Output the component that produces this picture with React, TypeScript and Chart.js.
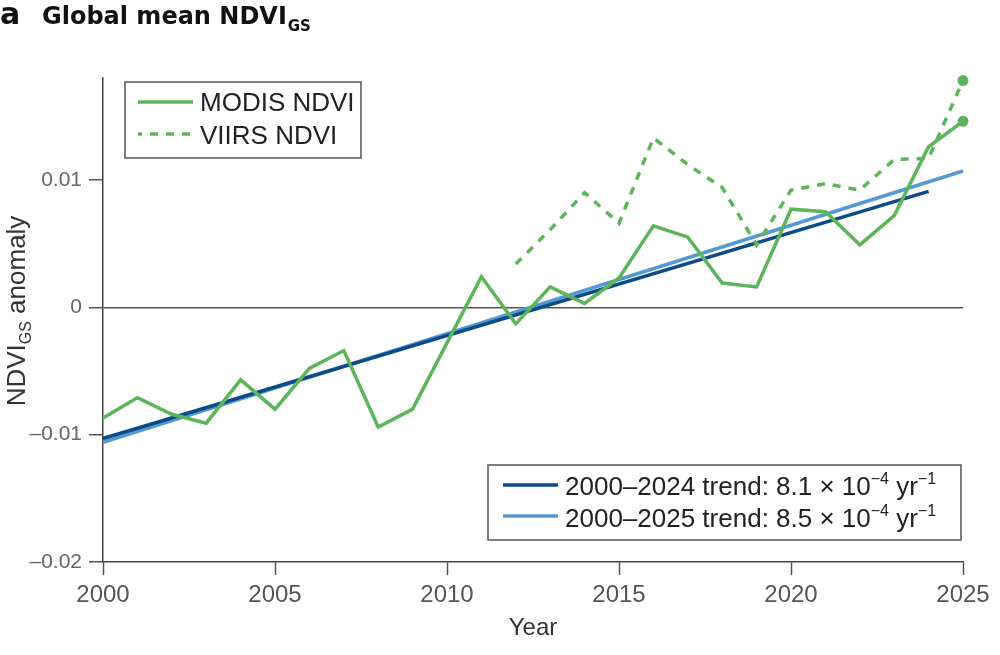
import React, { useEffect, useRef } from "react";
import { Chart, registerables } from "chart.js";

Chart.register(...registerables);

// ---------- data ----------
const years = [2000, 2001, 2002, 2003, 2004, 2005, 2006, 2007, 2008, 2009, 2010, 2011, 2012, 2013, 2014, 2015, 2016, 2017, 2018, 2019, 2020, 2021, 2022, 2023, 2024, 2025];
const modis = [-0.0087, -0.0071, -0.0084, -0.0091, -0.0057, -0.008, -0.0048, -0.0034, -0.0094, -0.008, -0.0028, 0.0024, -0.0013, 0.0016, 0.0003, 0.0023, 0.0064, 0.0055, 0.0019, 0.0016, 0.0077, 0.0075, 0.0049, 0.0072, 0.0126, 0.0146];
const viirsYears = [2012, 2013, 2014, 2015, 2016, 2017, 2018, 2019, 2020, 2021, 2022, 2023, 2024, 2025];
const viirs = [0.0034, 0.0061, 0.009, 0.0066, 0.0133, 0.0112, 0.0094, 0.0049, 0.0092, 0.0097, 0.0092, 0.0116, 0.0117, 0.0178];
const trend2024Years = [2000, 2024];
const trend2024 = [-0.0103, 0.0091];
const trend2025Years = [2000, 2025];
const trend2025 = [-0.0106, 0.0107];

const xTicks = [2000, 2005, 2010, 2015, 2020, 2025];
const yTicks = [-0.02, -0.01, 0, 0.01];
const yTickLabels = ["\u20130.02", "\u20130.01", "0", "0.01"];

const titleLetter = "a";
const titleMain = "Global mean NDVI";
const titleSub = "GS";
const yTitleMain = "NDVI";
const yTitleSub = "GS";
const yTitleRest = " anomaly";
const xTitle = "Year";

const legendTop = ["MODIS NDVI", "VIIRS NDVI"];
type Part = { t: string; sup?: boolean };
const legendTrend2024: Part[] = [{ t: "2000\u20132024 trend: 8.1 \u00d7 10" }, { t: "\u22124", sup: true }, { t: " yr" }, { t: "\u22121", sup: true }];
const legendTrend2025: Part[] = [{ t: "2000\u20132025 trend: 8.5 \u00d7 10" }, { t: "\u22124", sup: true }, { t: " yr" }, { t: "\u22121", sup: true }];

// ---------- styles ----------
const GREEN = "#5db55a";
const NAVY = "#0b4b88";
const LIGHT = "#5499d3";
const FONT = "'Liberation Sans', Arial, sans-serif";
const BOLDFONT = "'DejaVu Sans', sans-serif";

function drawRich(ctx: CanvasRenderingContext2D, parts: Part[], x: number, y: number, size: number) {
  let cx = x;
  for (const p of parts) {
    if (p.sup) {
      ctx.font = `${Math.round(size * 0.62)}px ${FONT}`;
      ctx.fillText(p.t, cx, y - size * 0.42);
    } else {
      ctx.font = `${size}px ${FONT}`;
      ctx.fillText(p.t, cx, y);
    }
    cx += ctx.measureText(p.t).width;
  }
}

const overlayPlugin = {
  id: "overlay",
  afterDraw(chart: any) {
    const ctx: CanvasRenderingContext2D = chart.ctx;
    ctx.save();
    ctx.textAlign = "left";
    ctx.textBaseline = "alphabetic";

    // Title
    ctx.fillStyle = "#111";
    ctx.font = `bold 30px ${BOLDFONT}`;
    ctx.fillText(titleLetter, 0, 24);
    ctx.font = `bold 24px ${BOLDFONT}`;
    ctx.fillText(titleMain, 42, 24);
    const tw = ctx.measureText(titleMain).width;
    ctx.font = `bold 15px ${BOLDFONT}`;
    ctx.fillText(titleSub, 42 + tw + 1, 31);

    // Y axis title (rotated)
    ctx.save();
    ctx.fillStyle = "#333";
    ctx.translate(25, 311);
    ctx.rotate(-Math.PI / 2);
    ctx.font = `26px ${FONT}`;
    const w1 = ctx.measureText(yTitleMain).width;
    const w3 = ctx.measureText(yTitleRest).width;
    ctx.font = `16px ${FONT}`;
    const w2 = ctx.measureText(yTitleSub).width;
    let sx = -(w1 + w2 + w3) / 2;
    ctx.font = `26px ${FONT}`;
    ctx.fillText(yTitleMain, sx, 0);
    sx += w1;
    ctx.font = `16px ${FONT}`;
    ctx.fillText(yTitleSub, sx, 6);
    sx += w2;
    ctx.font = `26px ${FONT}`;
    ctx.fillText(yTitleRest, sx, 0);
    ctx.restore();

    // X axis title
    ctx.fillStyle = "#333";
    ctx.font = `24px ${FONT}`;
    ctx.textAlign = "center";
    ctx.fillText(xTitle, (chart.chartArea.left + chart.chartArea.right) / 2, 635);
    ctx.textAlign = "left";

    // Top legend
    ctx.strokeStyle = "#555";
    ctx.lineWidth = 1.5;
    ctx.setLineDash([]);
    ctx.strokeRect(125, 82, 236, 76);
    ctx.lineWidth = 3.5;
    ctx.strokeStyle = GREEN;
    ctx.beginPath();
    ctx.moveTo(138, 102);
    ctx.lineTo(193, 102);
    ctx.stroke();
    ctx.setLineDash([8, 8]);
    ctx.lineDashOffset = 4;
    ctx.beginPath();
    ctx.moveTo(138, 134);
    ctx.lineTo(193, 134);
    ctx.stroke();
    ctx.setLineDash([]);
    ctx.lineDashOffset = 0;
    ctx.fillStyle = "#222";
    ctx.font = `26px ${FONT}`;
    ctx.fillText(legendTop[0], 200, 111);
    ctx.fillText(legendTop[1], 200, 144);

    // Bottom legend
    ctx.strokeStyle = "#555";
    ctx.lineWidth = 1.5;
    ctx.strokeRect(488, 465, 473, 75);
    ctx.lineWidth = 3.5;
    ctx.strokeStyle = NAVY;
    ctx.beginPath();
    ctx.moveTo(503, 485);
    ctx.lineTo(558, 485);
    ctx.stroke();
    ctx.strokeStyle = LIGHT;
    ctx.beginPath();
    ctx.moveTo(503, 516);
    ctx.lineTo(558, 516);
    ctx.stroke();
    ctx.fillStyle = "#222";
    drawRich(ctx, legendTrend2024, 565, 495, 26);
    drawRich(ctx, legendTrend2025, 565, 527, 26);

    ctx.restore();
  },
};

export default function App() {
  const ref = useRef<HTMLCanvasElement | null>(null);

  useEffect(() => {
    if (!ref.current) return;
    const lastM = modis.length - 1;
    const lastV = viirs.length - 1;
    const chart = new Chart(ref.current, {
      type: "line",
      data: {
        datasets: [
          {
            label: legendTop[0],
            data: years.map((x, i) => ({ x, y: modis[i] })),
            borderColor: GREEN,
            backgroundColor: GREEN,
            borderWidth: 3.5,
            pointRadius: (c: any) => (c.dataIndex === lastM ? 5.5 : 0),
            pointBorderWidth: 0,
            pointBackgroundColor: GREEN,
            pointBorderColor: GREEN,
            tension: 0,
            clip: false,
          },
          {
            label: legendTop[1],
            data: viirsYears.map((x, i) => ({ x, y: viirs[i] })),
            borderColor: GREEN,
            backgroundColor: GREEN,
            borderWidth: 3.5,
            borderDash: [8, 8],
            pointRadius: (c: any) => (c.dataIndex === lastV ? 5.5 : 0),
            pointBorderWidth: 0,
            pointBackgroundColor: GREEN,
            pointBorderColor: GREEN,
            tension: 0,
            clip: false,
          },
          {
            label: "2000-2024 trend",
            data: trend2024Years.map((x, i) => ({ x, y: trend2024[i] })),
            borderColor: NAVY,
            borderWidth: 3.5,
            pointRadius: 0,
            clip: false,
          },
          {
            label: "2000-2025 trend",
            data: trend2025Years.map((x, i) => ({ x, y: trend2025[i] })),
            borderColor: LIGHT,
            borderWidth: 3.5,
            pointRadius: 0,
            clip: false,
          },
        ],
      },
      options: {
        responsive: false,
        animation: false,
        layout: { padding: { top: 78, left: 0, right: 37, bottom: 0 } },
        plugins: { legend: { display: false }, tooltip: { enabled: false }, title: { display: false } },
        scales: {
          x: {
            type: "linear",
            min: 2000,
            max: 2025,
            afterBuildTicks: (s: any) => {
              s.ticks = xTicks.map((v) => ({ value: v }));
            },
            afterFit: (s: any) => {
              s.height = 93;
            },
            ticks: {
              color: "#555",
              font: { family: FONT, size: 24 },
              padding: 6,
              maxRotation: 0,
              callback: (v: any) => String(v),
            },
            grid: { drawOnChartArea: false, drawTicks: true, tickLength: 13, tickColor: "#555", tickWidth: 1.5 },
            border: { display: true, color: "#444", width: 1.5 },
          },
          y: {
            type: "linear",
            min: -0.02,
            max: 0.018,
            afterBuildTicks: (s: any) => {
              s.ticks = yTicks.map((v) => ({ value: v }));
            },
            afterFit: (s: any) => {
              s.width = 103;
            },
            ticks: {
              color: "#666",
              font: { family: FONT, size: 21 },
              padding: 7,
              callback: (_v: any, i: number) => yTickLabels[i],
            },
            grid: {
              drawOnChartArea: true,
              drawTicks: true,
              tickLength: 14,
              tickColor: "#555",
              tickWidth: 1.5,
              lineWidth: 1.5,
              color: (c: any) => (c.tick && c.tick.value === 0 ? "#555" : "rgba(0,0,0,0)"),
            },
            border: { display: true, color: "#444", width: 1.5 },
          },
        },
      } as any,
      plugins: [overlayPlugin],
    });
    return () => chart.destroy();
  }, []);

  return (
    <div style={{ position: "absolute", left: 0, top: 0, width: 1000, height: 655, background: "#fff" }}>
      <canvas ref={ref} width={1000} height={655} style={{ width: 1000, height: 655, display: "block" }} />
    </div>
  );
}
